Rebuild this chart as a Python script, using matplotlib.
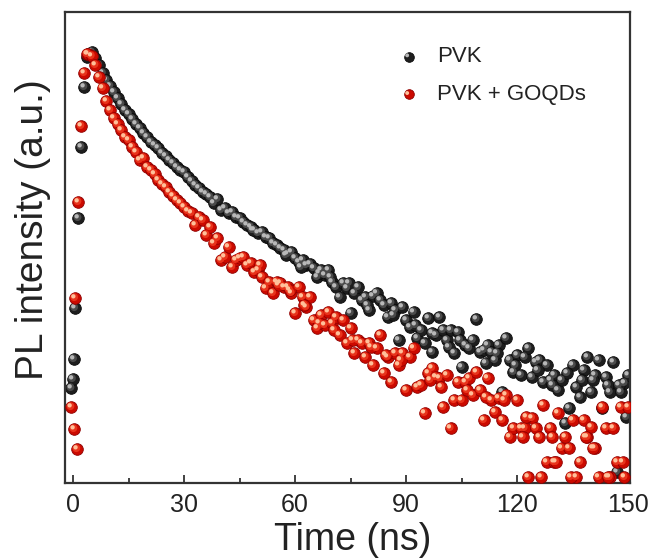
import matplotlib
matplotlib.use("Agg")
import matplotlib.pyplot as plt
from matplotlib.transforms import offset_copy

# PL decay traces: time in ns, intensity in arbitrary units
pvk_rise_t = [-0.5, -0.1, 0.2, 0.5, 1.4, 2.2, 3.0, 3.8]
pvk_rise_i = [0.97, 1.06, 1.26, 1.77, 2.67, 3.38, 3.98, 4.28]

goqd_rise_t = [-0.5, 0.3, 1.1, 0.5, 1.4, 2.2, 3.0, 3.8]
goqd_rise_i = [0.78, 0.56, 0.36, 1.87, 2.83, 3.59, 4.12, 4.31]

# decay channels, 1 ns apart from 4 to 150 ns
decay_t = [4, 5, 6, 7, 8, 9, 10, 11, 12, 13, 14, 15, 16, 17, 18, 19, 20, 21, 22, 23,
           24, 25, 26, 27, 28, 29, 30, 31, 32, 33, 34, 35, 36, 37, 38, 39, 40, 41, 42, 43,
           44, 45, 46, 47, 48, 49, 50, 51, 52, 53, 54, 55, 56, 57, 58, 59, 60, 61, 62, 63,
           64, 65, 66, 67, 68, 69, 70, 71, 72, 73, 74, 75, 76, 77, 78, 79, 80, 81, 82, 83,
           84, 85, 86, 87, 88, 89, 90, 91, 92, 93, 94, 95, 96, 97, 98, 99, 100, 101, 102, 103,
           104, 105, 106, 107, 108, 109, 110, 111, 112, 113, 114, 115, 116, 117, 118, 119, 120,
           121, 122, 123, 124, 125, 126, 127, 128, 129, 130, 131, 132, 133, 134, 135, 136, 137,
           138, 139, 140, 141, 142, 143, 144, 145, 146, 147, 148, 149, 150]

pvk_decay_i = [4.31, 4.33, 4.27, 4.20, 4.12, 4.05, 3.99, 3.93, 3.87, 3.81,
               3.75, 3.71, 3.66, 3.61, 3.57, 3.52, 3.48, 3.43, 3.40, 3.37,
               3.32, 3.29, 3.25, 3.22, 3.18, 3.15, 3.13, 3.08, 3.04, 3.00,
               2.97, 2.93, 2.91, 2.88, 2.82, 2.86, 2.75, 2.77, 2.72, 2.73,
               2.68, 2.67, 2.63, 2.60, 2.58, 2.55, 2.52, 2.53, 2.48, 2.47,
               2.42, 2.40, 2.37, 2.35, 2.31, 2.33, 2.27, 2.23, 2.25, 2.20,
               2.21, 2.17, 2.08, 2.15, 2.10, 2.15, 2.03, 1.98, 1.88, 2.02,
               1.97, 1.72, 1.92, 1.98, 1.85, 1.88, 1.75, 1.89, 1.92, 1.85,
               1.80, 1.68, 1.82, 1.75, 1.45, 1.78, 1.65, 1.58, 1.73, 1.47,
               1.55, 1.42, 1.67, 1.33, 1.50, 1.68, 1.55, 1.45, 1.55, 1.32,
               1.53, 1.18, 1.40, 1.37, 1.45, 1.66, 1.33, 1.35, 1.40, 1.33,
               1.25, 1.40, 0.93, 1.47, 1.25, 1.13, 1.30, 1.10, 1.28, 1.37,
               1.08, 1.23, 1.25, 1.03, 1.20, 1.05, 1.10, 0.95, 1.05, 0.62,
               0.77, 1.20, 0.98, 0.88, 1.15, 1.28, 0.93, 1.10, 1.25, 0.77,
               1.08, 0.93, 1.23, 0.13, 0.93, 1.02, 1.10]

goqd_decay_i = [4.31, 4.29, 4.20, 4.08, 3.97, 3.84, 3.75, 3.67, 3.61, 3.55,
                3.48, 3.45, 3.38, 3.33, 3.25, 3.27, 3.18, 3.15, 3.11, 3.05,
                3.01, 2.98, 2.93, 2.89, 2.85, 2.82, 2.78, 2.74, 2.72, 2.60,
                2.68, 2.65, 2.50, 2.58, 2.42, 2.47, 2.25, 2.28, 2.38, 2.18,
                2.25, 2.27, 2.28, 2.20, 2.22, 2.13, 2.15, 2.08, 1.97, 2.03,
                1.92, 2.03, 2.02, 1.98, 1.98, 1.92, 1.72, 1.98, 1.88, 1.78,
                1.88, 1.65, 1.57, 1.70, 1.60, 1.73, 1.62, 1.68, 1.50, 1.65,
                1.42, 1.57, 1.32, 1.45, 1.42, 1.28, 1.42, 1.20, 1.37, 1.50,
                1.12, 1.28, 1.03, 1.32, 1.20, 1.32, 0.95, 1.28, 1.37, 0.98,
                1.00, 0.72, 1.12, 1.17, 1.08, 1.07, 0.78, 1.10, 0.57, 0.85,
                1.03, 0.85, 1.03, 1.07, 0.90, 1.13, 0.95, 0.65, 1.07, 0.85,
                0.73, 0.87, 0.65, 0.90, 0.48, 0.57, 0.85, 0.57, 0.57, 0.08,
                0.67, 0.57, 0.48, 0.80, 0.23, 0.57, 0.23, 0.72, 0.37, 0.48,
                0.37, 0.65, 0.08, 0.23, 0.65, 0.48, 0.58, 0.37, 0.08, 0.78,
                0.57, 0.08, 0.57, 0.23, 0.78, 0.08, 0.78]

# extra overlapping points in the noisy tail
pvk_extra_t = [48.5, 57.5, 61.5, 66.5, 69.5, 74.5, 79.5, 86.5, 92.5, 97.0, 101.5, 104.5,
               111.5, 114.5, 119.5, 125.5, 129.5, 133.5, 137.5, 140.5, 144.5, 147.5, 149.5]
pvk_extra_i = [2.55, 2.30, 2.18, 2.12, 2.08, 2.02, 1.80, 1.70, 1.60, 1.52, 1.38, 1.45,
               1.22, 1.32, 1.20, 1.15, 1.00, 1.12, 1.05, 1.05, 1.00, 1.00, 0.68]

goqd_extra_t = [50.5, 55.5, 58.5, 62.5, 66.5, 70.5, 75.5, 80.5, 84.5, 88.5, 96.5, 99.5,
                106.5, 111.5, 116.5, 121.5, 122.5, 126.5, 129.5, 130.5, 134.5, 138.5,
                140.5, 144.5, 148.5]
goqd_extra_i = [2.20, 2.00, 1.95, 1.80, 1.62, 1.55, 1.45, 1.38, 1.30, 1.25, 1.05, 0.98,
                0.95, 0.88, 0.85, 0.48, 0.68, 0.08, 0.48, 0.23, 0.08, 0.48,
                0.37, 0.08, 0.23]

x_ticks = [0, 30, 60, 90, 120, 150]


def draw_balls(ax, t, y, base, edge, mid, shine, z, size=70):
    # fake 3D sphere: dark ball, lighter core, small highlight up-left
    ax.scatter(t, y, s=size, c=base, edgecolors=edge, linewidths=0.6, zorder=z)
    tr1 = offset_copy(ax.transData, fig=ax.figure, x=-0.6, y=0.6, units='points')
    ax.scatter(t, y, s=size * 0.45, c=mid, edgecolors='none', transform=tr1, zorder=z + 0.1)
    tr2 = offset_copy(ax.transData, fig=ax.figure, x=-1.2, y=1.2, units='points')
    ax.scatter(t, y, s=size * 0.14, c=shine, edgecolors='none', transform=tr2, zorder=z + 0.2)


fig = plt.figure(figsize=(6.52, 5.6), dpi=100)
ax = fig.add_axes([0.0997, 0.1375, 0.8666, 0.8411])

pvk_t = pvk_rise_t + decay_t + pvk_extra_t
pvk_i = pvk_rise_i + pvk_decay_i + pvk_extra_i
goqd_t = goqd_rise_t + decay_t + goqd_extra_t
goqd_i = goqd_rise_i + goqd_decay_i + goqd_extra_i

draw_balls(ax, pvk_t, pvk_i, '#1e1e1e', '#0a0a0a', '#4a4a4a', '#b8b8b8', 2)
draw_balls(ax, goqd_t, goqd_i, '#cc0a00', '#8e0000', '#e8341c', '#ffc09a', 3)

ax.set_xlim(-2.2, 150.5)
ax.set_ylim(0.02, 4.73)

ax.set_xticks(x_ticks)
ax.set_xticks([15, 45, 75, 105, 135], minor=True)
ax.set_yticks([])
ax.tick_params(axis='x', which='major', direction='in', length=6, width=1.3, pad=7, color='#333333')
ax.tick_params(axis='x', which='minor', direction='in', length=3.5, width=1.3, color='#333333')
for lab in ax.get_xticklabels():
    lab.set_family(['Liberation Sans Narrow', 'Liberation Sans', 'DejaVu Sans'])
    lab.set_fontsize(18)
    lab.set_color('#222222')

for sp in ax.spines.values():
    sp.set_linewidth(1.6)
    sp.set_color('#333333')

ax.set_xlabel('Time (ns)', fontsize=27, family=['Liberation Sans', 'DejaVu Sans'], color='#222222')
ax.set_ylabel('PL intensity (a.u.)', fontsize=28, family=['Liberation Sans', 'DejaVu Sans'], color='#222222')
ax.xaxis.set_label_coords(0.51, -0.082)
ax.yaxis.set_label_coords(-0.025, 0.537)

# legend drawn by hand (ball markers)
legend_rows = [('PVK', '#1e1e1e', '#0a0a0a', '#b8b8b8', 0.905),
               ('PVK + GOQDs', '#cc0a00', '#8e0000', '#ffc09a', 0.825)]
for name, base, edge, shine, yy in legend_rows:
    ax.scatter([0.608], [yy], s=48, c=base, edgecolors=edge, linewidths=0.6,
               transform=ax.transAxes, zorder=5)
    tr = offset_copy(ax.transAxes, fig=fig, x=-1.0, y=1.0, units='points')
    ax.scatter([0.608], [yy], s=8, c=shine, edgecolors='none', transform=tr, zorder=6)
    ax.text(0.659, yy, name, transform=ax.transAxes, fontsize=16, va='center', ha='left',
            family=['Liberation Sans', 'DejaVu Sans'], color='#222222')

fig.savefig('out.png', dpi=100)
